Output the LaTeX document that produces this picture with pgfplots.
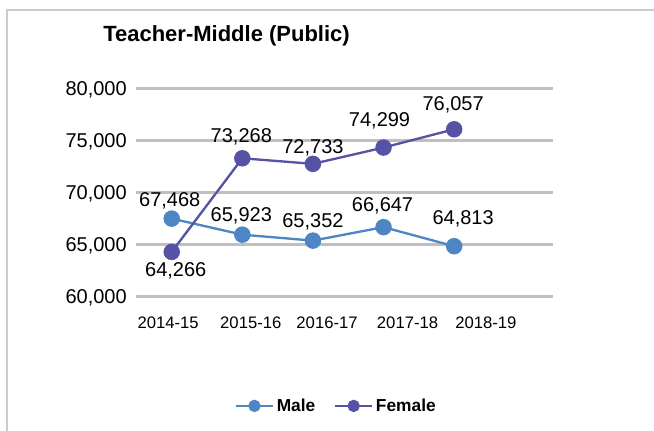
\documentclass[border=0pt]{standalone}
\usepackage{pgfplots}
\pgfplotsset{compat=1.18}
\usepackage{fontspec}
\setmainfont{Liberation Sans}
\definecolor{male}{HTML}{4E86C4}
\definecolor{female}{HTML}{5652A5}
\definecolor{gridc}{RGB}{191,191,191}
\definecolor{framec}{RGB}{204,204,204}
\begin{document}
\begin{tikzpicture}
\useasboundingbox (0,0) rectangle (490.5pt,322.5pt);
\draw[framec, line width=2.2pt] (5.25pt,-3pt) -- (5.25pt,315pt) -- (495pt,315pt);
\node[font=\fontsize{16.5}{19}\selectfont\bfseries, anchor=base, inner sep=0pt] at (169.9pt,291.2pt) {Teacher-Middle (Public)};
\begin{axis}[
  at={(102pt,100.3pt)}, anchor=south west,
  scale only axis, width=312.75pt, height=156pt,
  xmin=-0.506, xmax=5.40, ymin=60000, ymax=80000,
  ytick={60000,65000,...,80000},
  scaled y ticks=false,
  /pgf/number format/.cd, fixed, precision=0, 1000 sep={,}, assume math mode=true, /pgfplots/.cd,
  yticklabel style={font=\fontsize{15}{18}\selectfont, inner sep=0pt, anchor=east, xshift=-6.75pt, text depth=0pt},
  xtick={-0.05,1.12,2.20,3.34,4.45},
  xticklabels={2014-15,2015-16,2016-17,2017-18,2018-19},
  xticklabel style={font=\fontsize{12.5}{15}\selectfont, inner sep=0pt, anchor=north, yshift=-15.3pt},
  ymajorgrids, grid style={gridc, line width=2pt},
  axis line style={draw=none}, major tick length=0pt,
  clip=false,
  legend style={at={(0.481,-0.527)}, anchor=center, draw=none, fill=none, legend columns=2,
    font=\fontsize{13}{15}\selectfont\bfseries,
    /tikz/every even column/.append style={column sep=12pt}},
  legend image code/.code={\draw[mark repeat=2, mark phase=2, #1, mark size=3.75pt] plot coordinates {(0pt,0pt) (13.9pt,0pt) (27.75pt,0pt)};},
  visualization depends on={\thisrow{dx} \as \lblx},
  visualization depends on={\thisrow{dy} \as \lbly},
  nodes near coords,
  point meta=y,
  nodes near coords style={anchor=center, xshift=\lblx pt, yshift=\lbly pt, text=black,
    font=\fontsize{15}{18}\selectfont, inner sep=0pt, text depth=0pt},
]
\addplot[male, line width=1.75pt, mark=*, mark size=5.3pt] table {
x y dx dy
0 67468 -1.5 14.25
1 65923 -0.75 15
2 65352 0 15
3 66647 -0.75 17.25
4 64813 6.75 21.75
};
\addlegendentry{Male}
\addplot[female, line width=1.75pt, mark=*, mark size=5.3pt] table {
x y dx dy
0 64266 3 -13.5
1 73268 -0.75 17.25
2 72733 0 12.75
3 74299 -3 21
4 76057 -0.75 19.5
};
\addlegendentry{Female}
\end{axis}
\end{tikzpicture}
\end{document}
